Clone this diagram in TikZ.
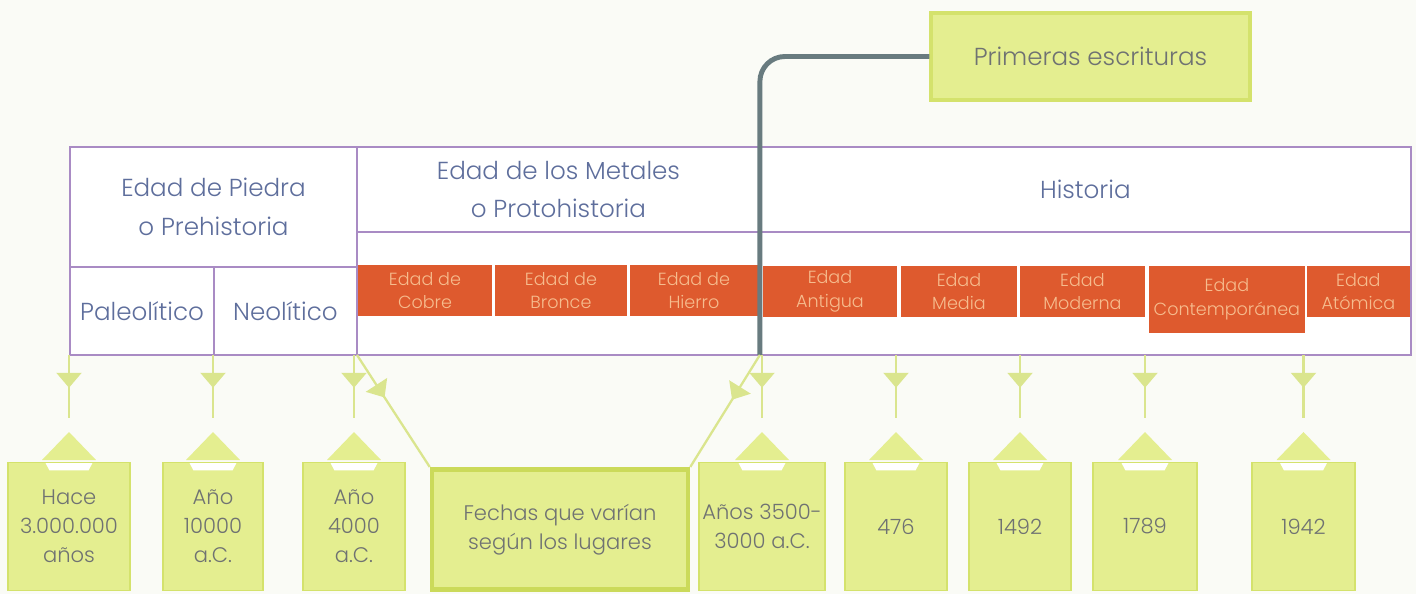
\documentclass[tikz,border=0pt]{standalone}
\usepackage{fontspec}
\IfFontExistsTF{Poppins Light}{\setmainfont{Poppins Light}}{\setmainfont{Poppins}}
\usetikzlibrary{arrows.meta,positioning,decorations.markings}
\usepackage{xcolor}
\definecolor{paper}{HTML}{FAFBF6}
\definecolor{tableline}{HTML}{A98BC4}
\definecolor{headtext}{HTML}{5E6E9C}
\definecolor{agefill}{HTML}{DE5A2E}
\definecolor{agetext}{HTML}{F6BC8E}
\definecolor{limefill}{HTML}{E4EE90}
\definecolor{limeline}{HTML}{D4E26C}
\definecolor{fechasline}{HTML}{CBDA5A}
\definecolor{pinline}{HTML}{DAE58E}
\definecolor{datetext}{HTML}{6F7272}
\definecolor{slate}{HTML}{687B7F}

% clip-like tab on top of a date box
\newcommand{\cliptab}[1]{%
  \fill[limefill] ([yshift=0.6cm]#1.north) -- ([xshift=-0.54cm,yshift=0.04cm]#1.north)
    -- ([xshift=0.54cm,yshift=0.04cm]#1.north) -- cycle;
  \fill[white] ([xshift=-0.47cm,yshift=-0.02cm]#1.north) -- ([xshift=0.47cm,yshift=-0.02cm]#1.north)
    -- ([xshift=0.39cm,yshift=-0.17cm]#1.north) -- ([xshift=-0.39cm,yshift=-0.17cm]#1.north) -- cycle;
}

\begin{document}
\begin{tikzpicture}[
  x=0.02cm, y=-0.02cm,
  cell/.style={draw=tableline, line width=1.1pt, fill=white, inner sep=0pt, outer sep=0pt,
    align=center, text=headtext, font=\fontsize{14}{22}\selectfont},
  age/.style={fill=agefill, inner sep=0pt, outer sep=0pt, align=center, text=agetext,
    minimum height=1.02cm, font=\fontsize{10}{13.5}\selectfont},
  datebox/.style={fill=limefill, draw=limeline, line width=0.8pt, inner sep=0pt, align=center,
    text=datetext, minimum height=2.56cm, anchor=north, font=\fontsize{12}{16.5}\selectfont},
  pin/.style={color=pinline, line width=1.3pt, postaction={decorate},
    decoration={markings, mark=at position #1 with {\arrow{Triangle[width=5mm,length=3mm]}}}},
  pin/.default=0.52,
  escline/.style={draw=slate, line width=2.8pt, rounded corners=0.5cm}
]
\useasboundingbox (0,0) rectangle (1416,594);
\fill[paper] (0,0) rectangle (1416,594);

% table
\node[cell, minimum width=5.74cm, minimum height=2.4cm] (piedra) at (213.5,207) {Edad de Piedra\\o Prehistoria};
\node[cell, minimum width=2.88cm, minimum height=1.76cm, below right=0pt and 0pt of piedra.south west] (paleo) {Paleolítico};
\node[cell, minimum width=2.86cm, minimum height=1.76cm, right=0pt of paleo] (neo) {Neolítico};
\node[cell, minimum width=8.06cm, minimum height=1.7cm, below right=0pt and 0pt of piedra.north east] (metales) {Edad de los Metales\\o Protohistoria};
\node[cell, minimum width=8.06cm, minimum height=2.46cm, below=0pt of metales] (metrow) {};
\node[cell, minimum width=13.02cm, minimum height=1.7cm, right=0pt of metales] (historia) {Historia};
\node[cell, minimum width=13.02cm, minimum height=2.46cm, below=0pt of historia] (histrow) {};

% ages
\node[age, minimum width=2.68cm, anchor=north west] (cobre) at (358,265) {Edad de\\Cobre};
\node[age, minimum width=2.64cm, below right=0pt and 0.06cm of cobre.north east] (bronce) {Edad de\\Bronce};
\node[age, minimum width=2.56cm, below right=0pt and 0.06cm of bronce.north east] (hierro) {Edad de\\Hierro};
\node[age, minimum width=2.68cm, anchor=north west] (antigua) at (763,266) {Edad\\Antigua};
\node[age, minimum width=2.32cm, below right=0pt and 0.08cm of antigua.north east] (media) {Edad\\Media};
\node[age, minimum width=2.5cm, below right=0pt and 0.06cm of media.north east] (moderna) {Edad\\Moderna};
\node[age, minimum width=3.12cm, minimum height=1.34cm, below right=0pt and 0.08cm of moderna.north east] (contemp) {Edad\\Contemporánea};
\node[age, minimum width=2.06cm, below right=0pt and 0.04cm of contemp.north east] (atomica) {Edad\\Atómica};

% first writing
\node[fill=limefill, draw=limeline, line width=1.8pt, minimum width=6.38cm, minimum height=1.74cm,
  text=datetext, font=\fontsize{14}{18}\selectfont] (escr) at (1090.5,56.5) {Primeras escrituras};
\draw[escline] (escr.west) -| (histrow.south west);

% dates
\node[datebox, minimum width=2.44cm] (hace) at (69,462) {Hace\\3.000.000\\años};
\node[datebox, minimum width=2.0cm] (a10000) at (213,462) {Año\\10000\\a.C.};
\node[datebox, minimum width=2.04cm] (a4000) at (354,462) {Año\\4000\\a.C.};
\node[datebox, minimum width=5.12cm, minimum height=2.4cm, draw=fechasline, line width=2.6pt] (fechas) at (560,467) {Fechas que varían\\según los lugares};
\node[datebox, minimum width=2.52cm] (a3500) at (762,462) {Años 3500-\\3000 a.C.};
\node[datebox, minimum width=2.04cm] (y476) at (896,462) {\mbox{}\\[-8pt]476};
\node[datebox, minimum width=2.04cm] (y1492) at (1020,462) {\mbox{}\\[-8pt]1492};
\node[datebox, minimum width=2.08cm] (y1789) at (1145,462) {\mbox{}\\[-8pt]1789};
\node[datebox, minimum width=2.06cm] (y1942) at (1303.5,462) {\mbox{}\\[-8pt]1942};

\foreach \d in {hace,a10000,a4000,a3500,y476,y1492,y1789,y1942}{
  \cliptab{\d}
  \coordinate (\d end) at ([yshift=0.88cm]\d.north);
  \draw[pin] (\d end |- histrow.south) -- (\d end);
}
\draw[pin=0.38] (neo.south east) -- (fechas.north west);
\draw[pin=0.4] (histrow.south west) -- (fechas.north east);
\end{tikzpicture}
\end{document}
